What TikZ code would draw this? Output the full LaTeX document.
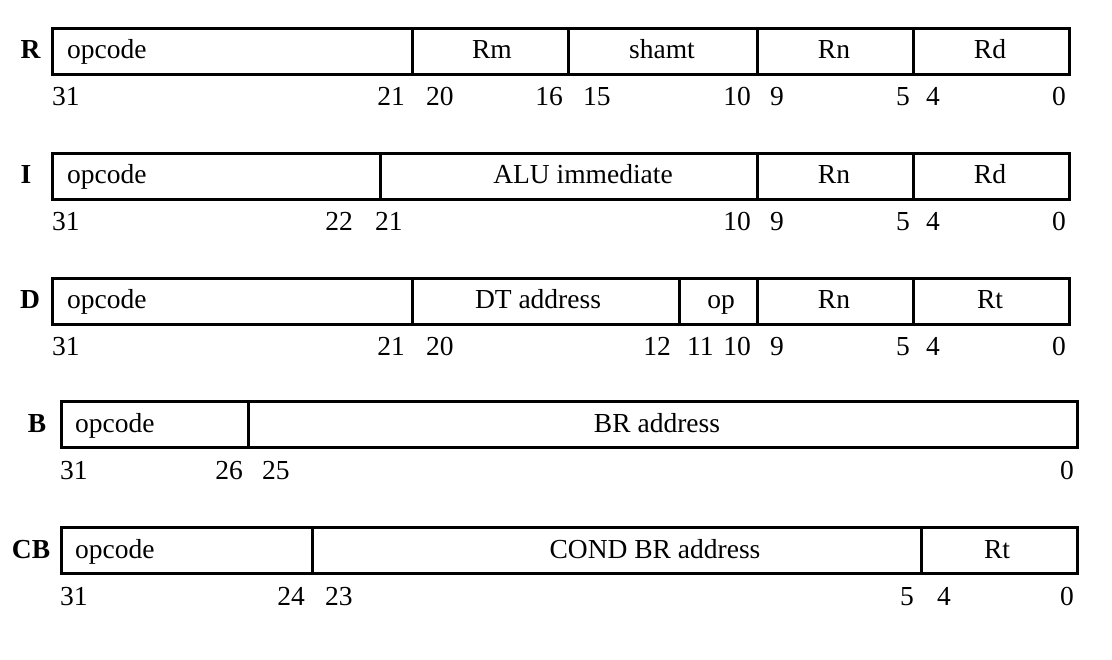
\documentclass[tikz,border=0pt]{standalone}
\usepackage{fontspec}
\setmainfont{Liberation Serif}
\begin{document}
\begin{tikzpicture}[x=1pt,y=-1pt,
  field/.style={draw, line width=2.9pt, inner sep=0pt, minimum height=46pt, anchor=north west},
  ftext/.style={font=\fontsize{27.5}{32}\selectfont, inner sep=0pt, anchor=base},
  ltext/.style={ftext, anchor=base west},
  nl/.style={font=\fontsize{27.5}{32}\selectfont, inner sep=0pt, anchor=base west},
  nr/.style={font=\fontsize{27.5}{32}\selectfont, inner sep=0pt, anchor=base east},
  rowname/.style={font=\fontsize{27.5}{32}\selectfont\bfseries, inner sep=0pt, anchor=base}]
\useasboundingbox (0,0) rectangle (1112,660);

% ---------- R format (top 27) ----------
\node[rowname] (Rn0) at (30.5,59) {R};
\node[field, minimum width=360pt] (R1) at (51,27) {};
\node[field, minimum width=156pt] (R2) at (411,27) {};
\node[field, minimum width=189pt] (R3) at (567,27) {};
\node[field, minimum width=156pt] (R4) at (756,27) {};
\node[field, minimum width=156pt] (R5) at (912,27) {};
\node[ltext] (R1t) at (67,59) {opcode};
\node[ftext] (R2t) at (492,59) {Rm};
\node[ftext] (R3t) at (662,59) {shamt};
\node[ftext] (R4t) at (834,59) {Rn};
\node[ftext] (R5t) at (990,59) {Rd};
\node[nl] (Ra) at (52,106) {31};
\node[nr] (Rb) at (405,106) {21};
\node[nl] (Rc) at (426,106) {20};
\node[nr] (Rd) at (563,106) {16};
\node[nl] (Re) at (583,106) {15};
\node[nr] (Rf) at (751,106) {10};
\node[nl] (Rg) at (770,106) {9};
\node[nr] (Rh) at (910,106) {5};
\node[nl] (Ri) at (926,106) {4};
\node[nr] (Rj) at (1066,106) {0};

% ---------- I format (top 152) ----------
\node[rowname] (In0) at (26,184) {I};
\node[field, minimum width=328pt] (I1) at (51,152) {};
\node[field, minimum width=377pt] (I2) at (379,152) {};
\node[field, minimum width=156pt] (I3) at (756,152) {};
\node[field, minimum width=156pt] (I4) at (912,152) {};
\node[ltext] (I1t) at (67,184) {opcode};
\node[ftext] (I2t) at (583,184) {ALU immediate};
\node[ftext] (I3t) at (834,184) {Rn};
\node[ftext] (I4t) at (990,184) {Rd};
\node[nl] (Ia) at (52,231) {31};
\node[nr] (Ib) at (353,231) {22};
\node[nl] (Ic) at (375,231) {21};
\node[nr] (Id) at (751,231) {10};
\node[nl] (Ie) at (770,231) {9};
\node[nr] (If) at (910,231) {5};
\node[nl] (Ig) at (926,231) {4};
\node[nr] (Ih) at (1066,231) {0};

% ---------- D format (top 277) ----------
\node[rowname] (Dn0) at (30,309) {D};
\node[field, minimum width=360pt] (D1) at (51,277) {};
\node[field, minimum width=267pt] (D2) at (411,277) {};
\node[field, minimum width=78pt] (D3) at (678,277) {};
\node[field, minimum width=156pt] (D4) at (756,277) {};
\node[field, minimum width=156pt] (D5) at (912,277) {};
\node[ltext] (D1t) at (67,309) {opcode};
\node[ftext] (D2t) at (538,309) {DT address};
\node[ftext] (D3t) at (721,309) {op};
\node[ftext] (D4t) at (834,309) {Rn};
\node[ftext] (D5t) at (990,309) {Rt};
\node[nl] (Da) at (52,356) {31};
\node[nr] (Db) at (405,356) {21};
\node[nl] (Dc) at (426,356) {20};
\node[nr] (Dd) at (671,356) {12};
\node[nl] (De) at (687,356) {11};
\node[nr] (Df) at (751,356) {10};
\node[nl] (Dg) at (770,356) {9};
\node[nr] (Dh) at (910,356) {5};
\node[nl] (Di) at (926,356) {4};
\node[nr] (Dj) at (1066,356) {0};

% ---------- B format (top 400) ----------
\node[rowname] (Bn0) at (37,432) {B};
\node[field, minimum width=187pt] (B1) at (60,400) {};
\node[field, minimum width=829pt] (B2) at (247,400) {};
\node[ltext] (B1t) at (75,432) {opcode};
\node[ftext] (B2t) at (657,432) {BR address};
\node[nl] (Ba) at (60,479) {31};
\node[nr] (Bb) at (243,479) {26};
\node[nl] (Bc) at (262,479) {25};
\node[nr] (Bd) at (1074,479) {0};

% ---------- CB format (top 526) ----------
\node[rowname] (Cn0) at (31,558) {CB};
\node[field, minimum width=251pt] (C1) at (60,526) {};
\node[field, minimum width=609pt] (C2) at (311,526) {};
\node[field, minimum width=156pt] (C3) at (920,526) {};
\node[ltext] (C1t) at (75,558) {opcode};
\node[ftext] (C2t) at (655,558) {COND BR address};
\node[ftext] (C3t) at (997,558) {Rt};
\node[nl] (Ca) at (60,605) {31};
\node[nr] (Cb) at (305,605) {24};
\node[nl] (Cc) at (325,605) {23};
\node[nr] (Cd) at (914,605) {5};
\node[nl] (Ce) at (937,605) {4};
\node[nr] (Cf) at (1074,605) {0};
\end{tikzpicture}
\end{document}
